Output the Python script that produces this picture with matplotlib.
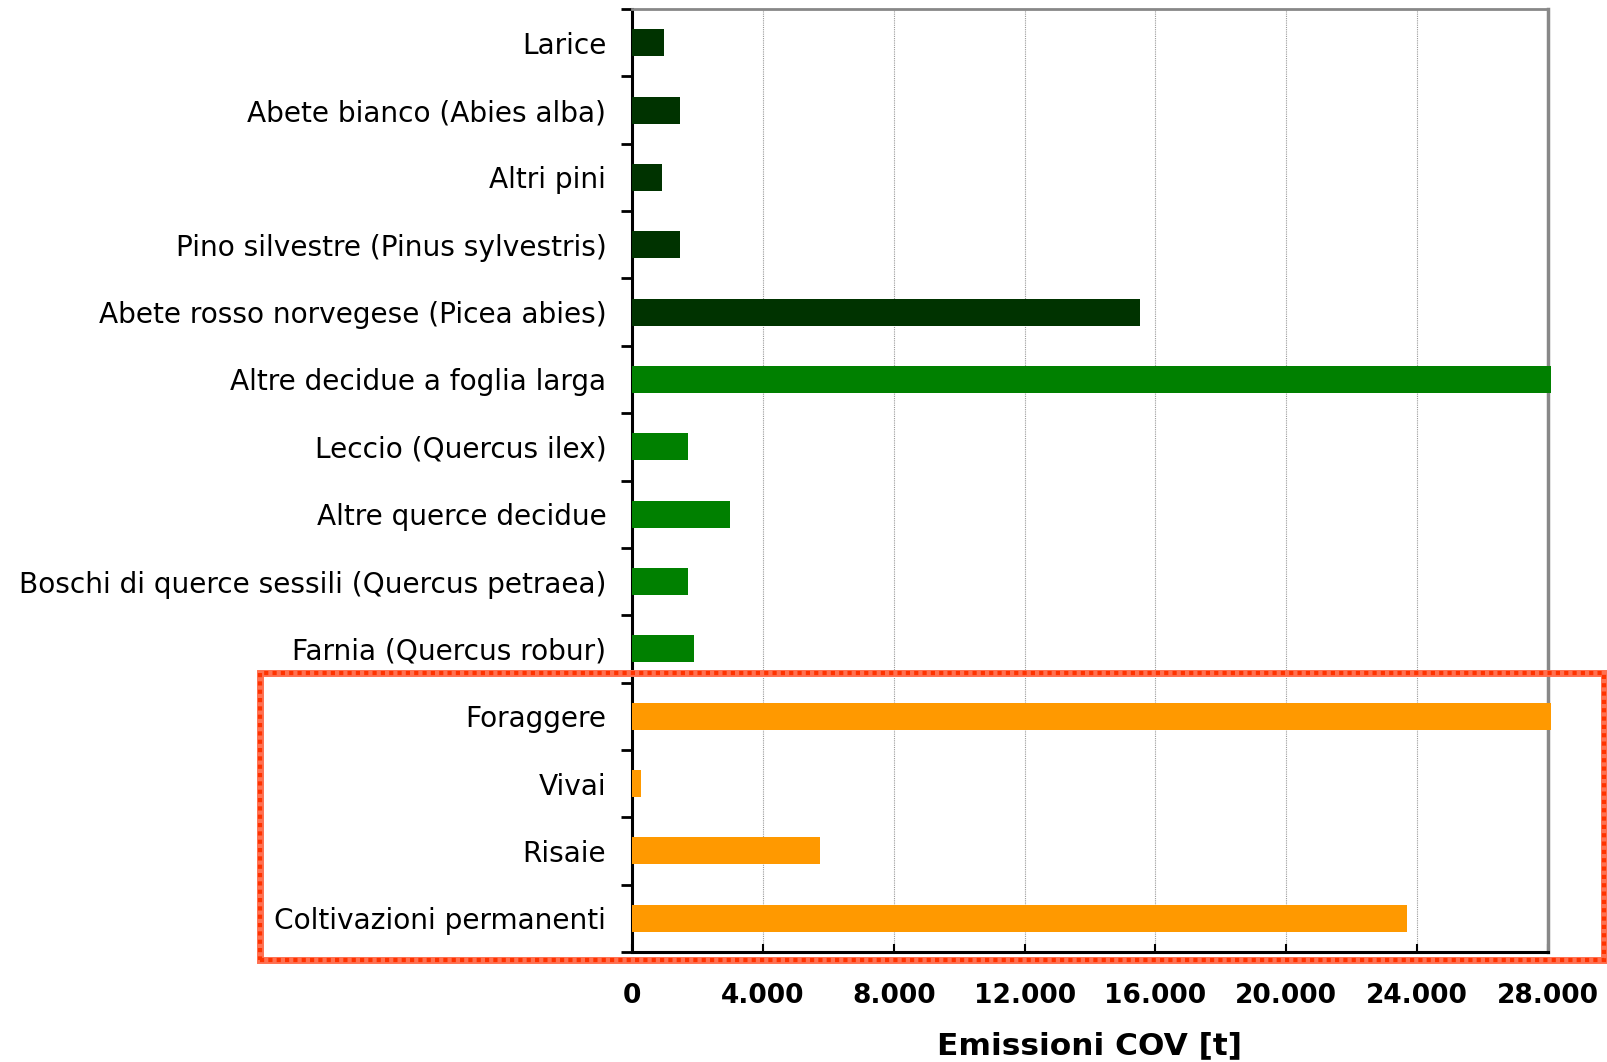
import matplotlib
matplotlib.use("Agg")
import matplotlib.pyplot as plt
from matplotlib.patches import Rectangle
from matplotlib.ticker import FixedLocator, FuncFormatter

categories = [
    "Larice",
    "Abete bianco (Abies alba)",
    "Altri pini",
    "Pino silvestre (Pinus sylvestris)",
    "Abete rosso norvegese (Picea abies)",
    "Altre decidue a foglia larga",
    "Leccio (Quercus ilex)",
    "Altre querce decidue",
    "Boschi di querce sessili (Quercus petraea)",
    "Farnia (Quercus robur)",
    "Foraggere",
    "Vivai",
    "Risaie",
    "Coltivazioni permanenti",
]
values = [970, 1470, 910, 1470, 15530, 28100, 1720, 3010, 1720, 1910, 28100, 265, 5750, 23700]
groups = ["conifer"] * 5 + ["broadleaf"] * 5 + ["crop"] * 4
group_colors = {"conifer": "#003300", "broadleaf": "#008000", "crop": "#FF9900"}
xticks = [0, 4000, 8000, 12000, 16000, 20000, 24000, 28000]
xlabel = "Emissioni COV [t]"

fig = plt.figure(figsize=(16.08, 10.62), dpi=100)
W, H = 1608, 1062
ax = fig.add_axes([632 / W, 1 - 952 / H, (1548 - 632) / W, (952 - 9) / H])

n = len(categories)
ypos = list(range(n))
for y, v, g in zip(ypos, values, groups):
    ax.barh(y, v, height=0.4, color=group_colors[g], clip_on=False, zorder=3)

ax.set_xlim(0, 28000)
ax.set_ylim(n - 0.5, -0.5)

ax.set_yticks(ypos)
ax.set_yticklabels(categories, fontsize=20.2)
ax.yaxis.set_minor_locator(FixedLocator([i - 0.5 for i in range(n + 1)]))
ax.tick_params(axis="y", which="major", length=0, pad=18.5)
ax.tick_params(axis="y", which="minor", length=8, width=2, direction="out")

ax.set_xticks(xticks)
ax.xaxis.set_major_formatter(FuncFormatter(lambda v, p: f"{int(v):,}".replace(",", ".")))
ax.tick_params(axis="x", length=6, width=1.5, direction="in", pad=22)
for lab in ax.get_xticklabels():
    lab.set_fontweight("bold")
    lab.set_fontsize(19)

ax.grid(axis="x", color="#999999", linestyle=(0, (1, 1)), linewidth=0.8, zorder=0)
ax.set_axisbelow(True)

ax.spines["left"].set_color("black")
ax.spines["left"].set_linewidth(2.2)
ax.spines["bottom"].set_color("black")
ax.spines["bottom"].set_linewidth(2.2)
ax.spines["top"].set_color("#888888")
ax.spines["top"].set_linewidth(2)
ax.spines["right"].set_color("#888888")
ax.spines["right"].set_linewidth(2.5)

ax.set_xlabel(xlabel, fontsize=22.5, fontweight="bold", labelpad=16)

rect = Rectangle((260 / W, 1 - 960 / H), (1604 - 260) / W, (960 - 673) / H,
                 transform=fig.transFigure, fill=False, edgecolor="#FF7050",
                 linewidth=5, zorder=10)
fig.add_artist(rect)
rect2 = Rectangle((260 / W, 1 - 960 / H), (1604 - 260) / W, (960 - 673) / H,
                  transform=fig.transFigure, fill=False, edgecolor="#FF3300",
                  linewidth=3, linestyle=(0, (1, 1)), zorder=11)
fig.add_artist(rect2)

fig.savefig("out.png", dpi=100)
